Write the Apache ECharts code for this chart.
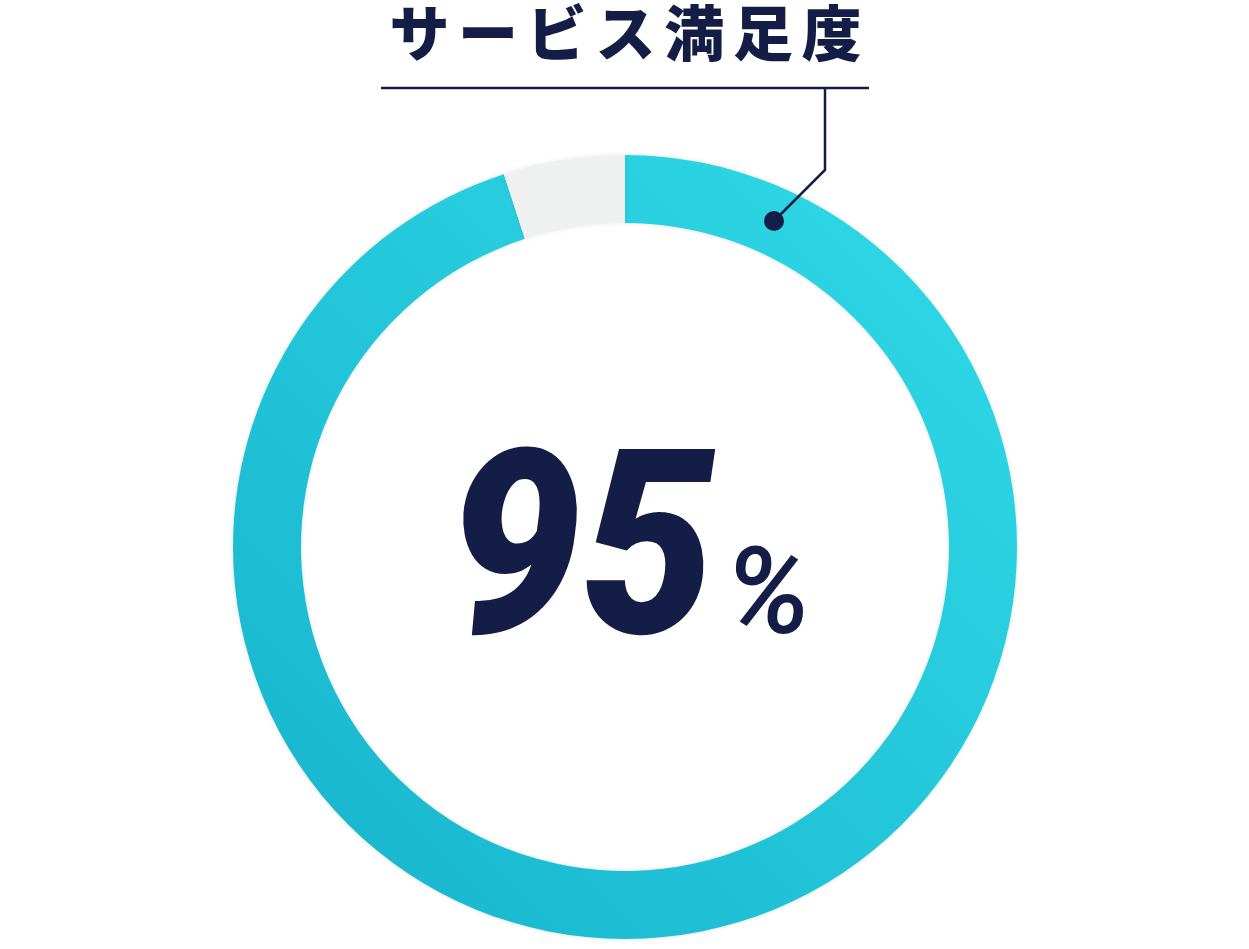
<!DOCTYPE html>
<html>
<head>
<meta charset="utf-8">
<script src="https://cdn.jsdelivr.net/npm/echarts@6/dist/echarts.min.js"></script>
<style>
html,body{margin:0;padding:0;background:#fff;}
#chart{width:1249px;height:949px;}
</style>
</head>
<body>
<div id="chart"></div>
<script>
var categories = ['満足', 'その他'];
var values = [95, 5];
var titleText = 'サービス満足度';
var valueText = '95';
var unitText = '%';

var chart = echarts.init(document.getElementById('chart'));
var navy = '#141d45';

var titleChars = titleText.split('');
var pitch = 68.7;
var titleCenter = 625.5;
var titleEls = titleChars.map(function (ch, i) {
  return {
    type: 'text', silent: true, z: 100,
    x: titleCenter + (i - (titleChars.length - 1) / 2) * pitch, y: 3,
    style: {
      text: ch, x: 0, y: 0,
      fontFamily: '"Noto Sans CJK JP"', fontWeight: 900, fontSize: 60,
      fill: navy, align: 'center', verticalAlign: 'top'
    }
  };
});

var option = {
  animation: false,
  backgroundColor: '#ffffff',
  series: [{
    type: 'pie',
    z: 1,
    center: [625, 547],
    radius: [324, 392],
    startAngle: 90,
    clockwise: true,
    silent: true,
    label: { show: false },
    labelLine: { show: false },
    emphasis: { disabled: true },
    data: categories.map(function (c, i) {
      return {
        name: c,
        value: values[i],
        itemStyle: i === 0 ? {
          color: new echarts.graphic.LinearGradient(1, 0, 0, 1, [
            { offset: 0, color: '#31dbe8' },
            { offset: 1, color: '#16b3cc' }
          ]),
          shadowBlur: 4,
          shadowColor: 'rgba(0,60,80,0.15)'
        } : { color: '#eff1f1', shadowBlur: 4, shadowColor: 'rgba(0,0,0,0.08)' }
      };
    })
  }],
  graphic: {
    elements: titleEls.concat([
      {
        type: 'line', silent: true, z: 100,
        shape: { x1: 381, y1: 88, x2: 869, y2: 88 },
        style: { stroke: navy, lineWidth: 2.5 }
      },
      {
        type: 'polyline', silent: true, z: 100,
        shape: { points: [[825, 88], [825, 170], [774, 221]] },
        style: { stroke: navy, lineWidth: 2.5, fill: null }
      },
      {
        type: 'circle', silent: true, z: 100,
        shape: { cx: 774, cy: 221, r: 10 },
        style: { fill: navy }
      },
      {
        type: 'text', silent: true, z: 100,
        x: 715, y: 439, scaleX: 0.92,
        style: {
          text: valueText, x: 0, y: 0,
          align: 'right', verticalAlign: 'top',
          fontFamily: 'Roboto', fontStyle: 'italic', fontWeight: 900, fontSize: 258,
          fill: navy
        }
      },
      {
        type: 'text', silent: true, z: 100,
        x: 725, y: 543,
        style: {
          text: unitText, x: 0, y: 0,
          align: 'left', verticalAlign: 'top',
          fontFamily: 'Roboto', fontStyle: 'italic', fontWeight: 500, fontSize: 120,
          fill: navy
        }
      }
    ])
  }
};
chart.setOption(option);
</script>
</body>
</html>
